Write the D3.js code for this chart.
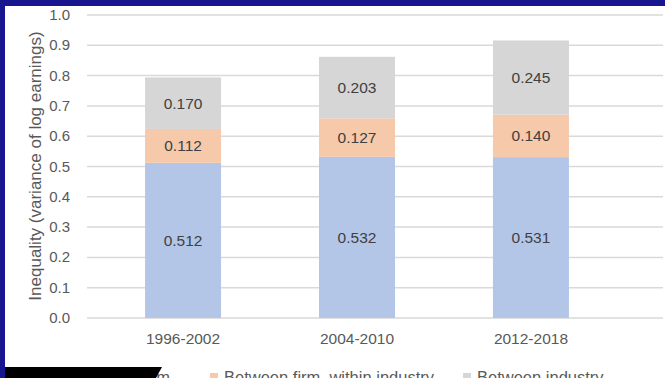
<!DOCTYPE html>
<html>
<head>
<meta charset="utf-8">
<script src="https://cdn.jsdelivr.net/npm/d3@7"></script>
<style>
  html, body { margin: 0; padding: 0; background: #18168f; }
  svg { display: block; }
  text { font-family: "Liberation Sans", Arial, sans-serif; fill: #404040; }
</style>
</head>
<body>
<svg id="chart" width="665" height="378"></svg>
<script>
const periods = ['1996-2002', '2004-2010', '2012-2018'];
const withinFirm = [0.512, 0.532, 0.531];
const betweenFirm = [0.112, 0.127, 0.140];
const betweenIndustry = [0.170, 0.203, 0.245];
const seriesNames = ['Within firm', 'Between firm, within industry', 'Between industry'];
const seriesColors = ['#b4c6e7', '#f5c9aa', '#d6d6d6'];
const yTicks = [0, 0.1, 0.2, 0.3, 0.4, 0.5, 0.6, 0.7, 0.8, 0.9, 1.0];

const svg = d3.select('#chart');

// white panel inside the blue frame
svg.append('rect')
  .attr('x', 5).attr('y', 6)
  .attr('width', 660).attr('height', 372)
  .attr('fill', '#ffffff');

const x = d3.scaleBand()
  .domain(periods)
  .range([96, 618])
  .paddingInner(0.563)
  .paddingOuter(0.282);

const y = d3.scaleLinear()
  .domain([0, 1])
  .range([318, 15]);

// gridlines
svg.append('g')
  .selectAll('line')
  .data(yTicks)
  .join('line')
  .attr('x1', 87).attr('x2', 663)
  .attr('y1', d => y(d)).attr('y2', d => y(d))
  .attr('stroke', '#d9d9d9')
  .attr('stroke-width', 1.5);

// y tick labels
svg.append('g')
  .selectAll('text')
  .data(yTicks)
  .join('text')
  .attr('x', 70)
  .attr('y', d => y(d) + 5)
  .attr('text-anchor', 'end')
  .style('font-size', '15px')
  .style('fill', '#595959')
  .text(d => d3.format('.1f')(d));

// y axis title
svg.append('text')
  .attr('transform', `translate(41, 166) rotate(-90)`)
  .attr('text-anchor', 'middle')
  .style('font-size', '17px')
  .style('fill', '#595959')
  .text('Inequality (variance of log earnings)');

// stacked bars
const rows = periods.map((p, i) => ({
  period: p,
  s0: withinFirm[i],
  s1: betweenFirm[i],
  s2: betweenIndustry[i]
}));
const stack = d3.stack().keys(['s0', 's1', 's2']);
const layers = stack(rows);

const layerG = svg.append('g')
  .selectAll('g')
  .data(layers)
  .join('g')
  .attr('fill', (d, i) => seriesColors[i]);

layerG.selectAll('rect')
  .data(d => d)
  .join('rect')
  .attr('x', d => x(d.data.period))
  .attr('width', x.bandwidth())
  .attr('y', d => y(d[1]))
  .attr('height', d => y(d[0]) - y(d[1]));

layerG.selectAll('text')
  .data(d => d)
  .join('text')
  .attr('x', d => x(d.data.period) + x.bandwidth() / 2)
  .attr('y', d => (y(d[0]) + y(d[1])) / 2 + 5.5)
  .attr('text-anchor', 'middle')
  .style('font-size', '15.5px')
  .text(d => d3.format('.3f')(d[1] - d[0]));

// category labels
svg.append('g')
  .selectAll('text')
  .data(periods)
  .join('text')
  .attr('x', d => x(d) + x.bandwidth() / 2)
  .attr('y', 344)
  .attr('text-anchor', 'middle')
  .style('font-size', '15.5px')
  .style('fill', '#595959')
  .text(d => d);

// legend (cut off at the bottom edge, as in the source)
const legendX = [78, 210, 463];
const legend = svg.append('g')
  .selectAll('g')
  .data(seriesNames)
  .join('g')
  .attr('transform', (d, i) => `translate(${legendX[i]}, 373)`);
legend.append('rect')
  .attr('width', 8).attr('height', 8)
  .attr('fill', (d, i) => seriesColors[i]);
legend.append('text')
  .attr('x', 14)
  .attr('y', 10)
  .style('font-size', '16.5px')
  .style('fill', '#595959')
  .text(d => d);

// black overlay box at bottom left
svg.append('path')
  .attr('d', 'M5,367 L162,367 L156,378 L5,378 Z')
  .attr('fill', '#000000');
</script>
</body>
</html>
